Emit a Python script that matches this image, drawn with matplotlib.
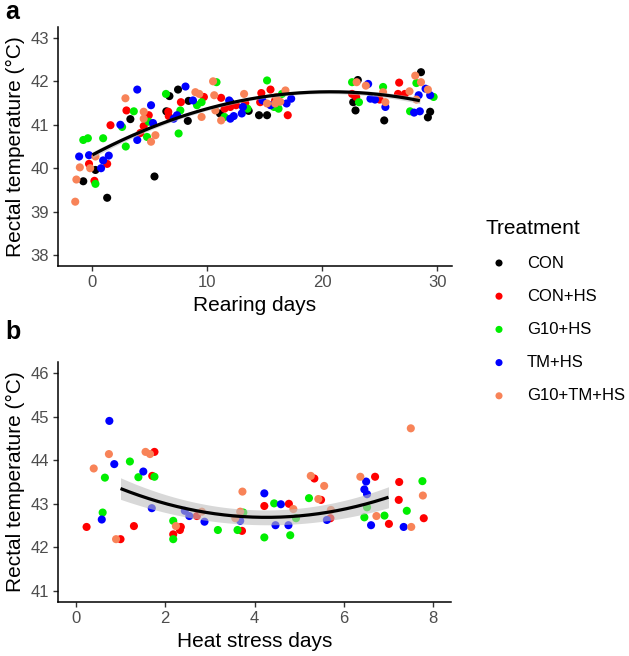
import numpy as np
import matplotlib
matplotlib.use("Agg")
import matplotlib.pyplot as plt

plt.rcParams['font.family'] = ['Liberation Sans', 'DejaVu Sans']

treatments = ["CON", "CON+HS", "G10+HS", "TM+HS", "G10+TM+HS"]
colors = ["#000000", "#FF0000", "#00EE00", "#0000FF", "#F88358"]

# ---- Panel a: rearing days ----
a_con_x = [-0.8, 0.26, 1.28, 3.3, 5.4, 6.43, 6.7, 7.45, 8.37, 8.3, 11.1, 12.0, 13.6, 14.5, 15.2, 23.1, 22.7, 22.9, 25.4, 28.6, 29.4, 29.2]
a_con_y = [39.70, 39.96, 39.32, 41.13, 39.81, 41.31, 41.66, 41.81, 41.55, 41.09, 41.26, 41.52, 41.32, 41.22, 41.22, 42.03, 41.52, 41.33, 41.10, 42.21, 41.30, 41.17]
a_conhs_x = [-0.3, 0.17, 1.28, 1.57, 2.96, 4.17, 4.46, 4.9, 6.6, 6.64, 7.7, 9.7, 11.2, 11.5, 12.0, 12.5, 13.3, 14.6, 14.7, 15.5, 15.9, 17.0, 22.6, 22.96, 25.0, 26.7, 26.6, 27.2]
a_conhs_y = [40.10, 39.71, 40.10, 40.99, 41.33, 40.81, 40.97, 41.22, 41.30, 41.20, 41.52, 41.64, 41.62, 41.37, 41.41, 41.45, 41.50, 41.52, 41.73, 41.81, 41.56, 41.22, 41.71, 41.64, 41.58, 41.97, 41.71, 41.71]
a_g10_x = [-0.8, -0.4, 0.26, 0.93, 2.58, 2.9, 3.6, 4.75, 4.9, 6.4, 7.5, 7.65, 9.1, 9.5, 10.8, 11.5, 13.5, 15.2, 15.8, 16.2, 16.5, 22.6, 23.2, 25.3, 28.2, 27.65, 29.7]
a_g10_y = [40.65, 40.69, 39.64, 40.69, 40.95, 40.50, 41.31, 40.72, 41.07, 41.71, 40.80, 41.33, 41.45, 41.52, 41.98, 41.18, 41.37, 42.02, 41.41, 41.37, 41.71, 41.98, 41.52, 41.87, 41.96, 41.31, 41.64]
a_tm_x = [-1.16, -0.3, 0.75, 0.93, 1.42, 2.43, 3.9, 3.9, 5.1, 5.27, 7.07, 7.36, 8.1, 8.75, 11.9, 12.0, 12.3, 13.1, 13.0, 14.8, 15.5, 16.9, 17.3, 24.0, 24.2, 24.6, 25.5, 28.4, 28.0, 28.5, 29.0, 29.4]
a_tm_y = [40.27, 40.30, 40.00, 40.18, 40.29, 41.00, 41.81, 40.65, 41.45, 41.04, 41.14, 41.22, 41.88, 41.56, 41.56, 41.14, 41.20, 41.41, 41.26, 41.56, 41.45, 41.49, 41.60, 41.94, 41.60, 41.58, 41.41, 41.68, 41.28, 41.31, 41.83, 41.68]
a_g10tm_x = [-1.5, -1.4, -1.1, -0.2, 0.26, 2.87, 4.46, 4.46, 5.1, 5.48, 8.96, 9.3, 9.5, 10.5, 10.6, 10.7, 11.2, 13.2, 15.2, 15.9, 16.35, 16.0, 16.8, 23.0, 23.8, 25.5, 25.3, 27.6, 28.1, 28.6, 28.2, 29.2]
a_g10tm_y = [39.23, 39.74, 40.02, 40.00, 40.27, 41.61, 41.30, 41.14, 40.61, 40.76, 41.75, 41.71, 41.18, 42.00, 41.68, 41.33, 41.10, 41.71, 41.49, 41.49, 41.53, 41.64, 41.79, 41.98, 41.90, 41.52, 41.75, 41.77, 42.13, 41.98, 41.58, 41.81]

# smooth (quadratic): x, fitted value, 95% CI half width
a_fit_x = [0, 5, 10, 15, 20, 25, 28.5]
a_fit_y = [40.30, 40.93, 41.38, 41.65, 41.75, 41.68, 41.57]
a_fit_ci = [0.07, 0.05, 0.04, 0.04, 0.04, 0.05, 0.07]

# ---- Panel b: heat stress days ----
b_conhs_x = [0.24, 1.0, 1.30, 1.76, 1.71, 2.18, 2.33, 2.35, 2.71, 3.72, 4.22, 4.77, 5.34, 5.49, 5.70, 6.70, 7.01, 7.24, 7.23, 7.79]
b_conhs_y = [42.47, 42.19, 42.49, 44.19, 43.64, 42.30, 42.40, 42.47, 42.72, 42.38, 42.95, 43.00, 43.58, 43.09, 42.67, 43.62, 42.54, 43.50, 43.09, 42.67]
b_g10_x = [0.6, 0.65, 1.21, 1.40, 1.76, 2.18, 2.18, 3.18, 3.62, 3.75, 4.22, 4.44, 4.80, 4.93, 5.22, 6.52, 6.46, 6.91, 7.41, 7.76]
b_g10_y = [42.80, 43.60, 43.97, 43.61, 43.62, 42.61, 42.19, 42.40, 42.40, 42.80, 42.23, 43.01, 42.28, 42.67, 43.13, 42.92, 42.69, 42.73, 42.84, 43.52]
b_tm_x = [0.58, 0.75, 0.86, 1.51, 1.70, 2.44, 2.54, 2.88, 3.68, 4.22, 4.47, 4.59, 4.76, 5.62, 6.50, 6.46, 6.52, 6.61, 7.34]
b_tm_y = [42.64, 44.90, 43.91, 43.74, 42.90, 42.84, 42.72, 42.59, 42.61, 43.24, 42.51, 42.99, 42.51, 42.63, 43.51, 43.33, 43.22, 42.51, 42.47]
b_g10tm_x = [0.40, 0.74, 0.9, 1.56, 1.66, 2.24, 2.82, 3.57, 3.68, 3.73, 4.87, 5.26, 5.43, 5.56, 5.71, 6.37, 6.73, 7.51, 7.50, 7.77]
b_g10tm_y = [43.81, 44.14, 42.19, 44.19, 44.14, 42.49, 42.82, 42.67, 42.82, 43.28, 42.88, 43.64, 43.11, 43.41, 42.86, 43.62, 42.72, 42.47, 44.73, 43.19]

b_fit_x = [1, 2, 3, 4, 5, 6, 7]
b_fit_y = [43.37, 42.98, 42.78, 42.70, 42.74, 42.88, 43.14]
b_fit_ci = [0.25, 0.20, 0.18, 0.17, 0.18, 0.20, 0.24]

a_xticks = [0, 10, 20, 30]
a_yticks = [38, 39, 40, 41, 42, 43]
b_xticks = [0, 2, 4, 6, 8]
b_yticks = [41, 42, 43, 44, 45, 46]

a_series = [(a_con_x, a_con_y), (a_conhs_x, a_conhs_y), (a_g10_x, a_g10_y), (a_tm_x, a_tm_y), (a_g10tm_x, a_g10tm_y)]
b_series = [None, (b_conhs_x, b_conhs_y), (b_g10_x, b_g10_y), (b_tm_x, b_tm_y), (b_g10tm_x, b_g10tm_y)]

W, H = 629, 656
fig = plt.figure(figsize=(W / 100, H / 100), dpi=100)

def ax_rect(l, t, r, b):
    return [l / W, 1 - b / H, (r - l) / W, (b - t) / H]

ax_a = fig.add_axes(ax_rect(58, 27, 452, 266))
ax_b = fig.add_axes(ax_rect(58, 362, 451, 602))

def draw_smooth(ax, fx, fy, fci):
    fx = np.asarray(fx, float)
    cy = np.polyfit(fx, fy, 2)
    cc = np.polyfit(fx, fci, 2)
    xg = np.linspace(fx.min(), fx.max(), 200)
    yg = np.polyval(cy, xg)
    cg = np.polyval(cc, xg)
    ax.fill_between(xg, yg - cg, yg + cg, color="#BEBEBE", alpha=0.6, lw=0, zorder=3)
    ax.plot(xg, yg, color="black", lw=2.3, zorder=4, solid_capstyle='butt')

for ax, series in [(ax_a, a_series), (ax_b, b_series)]:
    for s, c in zip(series, colors):
        if s is None:
            continue
        ax.scatter(s[0], s[1], s=34, color=c, edgecolors='none', zorder=2)

draw_smooth(ax_a, a_fit_x, a_fit_y, a_fit_ci)
draw_smooth(ax_b, b_fit_x, b_fit_y, b_fit_ci)

ax_a.set_xlim(-3.0, 31.3)
ax_a.set_ylim(37.75, 43.25)
ax_b.set_xlim(-0.4, 8.4)
ax_b.set_ylim(40.75, 46.25)
ax_a.set_xticks(a_xticks)
ax_a.set_yticks(a_yticks)
ax_b.set_xticks(b_xticks)
ax_b.set_yticks(b_yticks)

for ax in (ax_a, ax_b):
    for sp in ("top", "right"):
        ax.spines[sp].set_visible(False)
    for sp in ("left", "bottom"):
        ax.spines[sp].set_linewidth(1.1)
        ax.spines[sp].set_color("black")
    ax.tick_params(axis='both', length=3.5, width=1.0, color="#333333",
                   labelsize=12, labelcolor="#4D4D4D", pad=3)
    ax.set_ylabel("Rectal temperature (°C)", fontsize=15, labelpad=4)

ax_a.set_xlabel("Rearing days", fontsize=15, labelpad=4)
ax_b.set_xlabel("Heat stress days", fontsize=15, labelpad=4)

fig.text(5 / W, 1 - 12 / H, "a", fontsize=18, fontweight='bold', va='center', ha='left')
fig.text(5 / W, 1 - 332 / H, "b", fontsize=18, fontweight='bold', va='center', ha='left')

# legend drawn in a figure-pixel overlay
lax = fig.add_axes([0, 0, 1, 1])
lax.set_xlim(0, W)
lax.set_ylim(H, 0)
lax.axis('off')
lax.text(486, 228, "Treatment", fontsize=15, va='center', ha='left')
for i, (lab, c) in enumerate(zip(treatments, colors)):
    yy = 263 + 33.2 * i
    lax.scatter([499], [yy], s=26, color=c, edgecolors='none')
    lax.text(527, yy, lab, fontsize=12, va='center', ha='left')

fig.savefig("out.png", dpi=100)
